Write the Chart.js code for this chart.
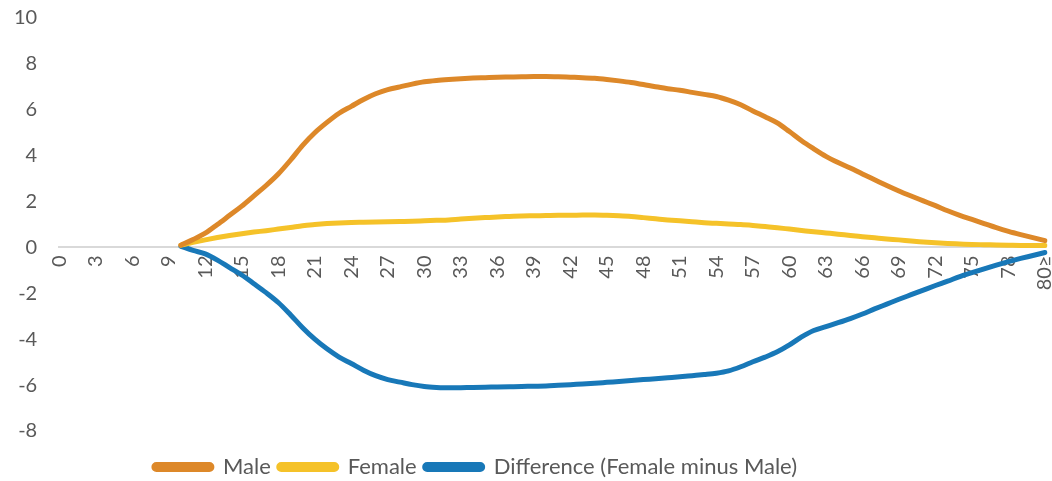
<!DOCTYPE html>
<html>
<head>
<meta charset="utf-8">
<style>
  html, body { margin: 0; padding: 0; background: #ffffff; }
  #wrap { width: 1052px; height: 481px; }
</style>
<script src="https://cdn.jsdelivr.net/npm/chart.js@4/dist/chart.umd.min.js"></script>
</head>
<body>
<div id="wrap"><canvas id="chart" width="1052" height="481"></canvas></div>
<script>
// Age categories 0..80, then the open-ended "80≥" group
const ages = [];
for (let a = 0; a <= 80; a++) ages.push(String(a));
ages.push('80≥');

// Series values start at age 10 (earlier ages have no data)
const firstAge = 10;
const maleValues = [
  0.10, 0.35, 0.62, 1.00, 1.40, 1.80, 2.25, 2.70, 3.20, 3.80,
  4.45, 5.00, 5.45, 5.85, 6.15, 6.45, 6.70, 6.88, 7.00, 7.12,
  7.22, 7.28, 7.32, 7.35, 7.38, 7.40, 7.42, 7.43, 7.44, 7.45,
  7.45, 7.44, 7.42, 7.40, 7.37, 7.32, 7.26, 7.19, 7.10, 7.00,
  6.92, 6.85, 6.76, 6.67, 6.58, 6.42, 6.22, 5.95, 5.70, 5.43,
  5.05, 4.65, 4.30, 3.97, 3.70, 3.46, 3.20, 2.95, 2.70, 2.46,
  2.24, 2.03, 1.82, 1.60, 1.40, 1.22, 1.04, 0.86, 0.70, 0.56,
  0.43, 0.30
];
const femaleValues = [
  0.10, 0.22, 0.33, 0.43, 0.52, 0.60, 0.67, 0.73, 0.80, 0.87,
  0.95, 1.00, 1.04, 1.07, 1.09, 1.10, 1.11, 1.12, 1.13, 1.14,
  1.16, 1.18, 1.20, 1.24, 1.27, 1.30, 1.33, 1.35, 1.37, 1.38,
  1.39, 1.40, 1.40, 1.41, 1.41, 1.40, 1.38, 1.35, 1.30, 1.25,
  1.20, 1.16, 1.12, 1.08, 1.05, 1.02, 1.00, 0.96, 0.91, 0.86,
  0.80, 0.74, 0.68, 0.63, 0.58, 0.52, 0.47, 0.42, 0.37, 0.33,
  0.28, 0.24, 0.20, 0.17, 0.15, 0.13, 0.12, 0.11, 0.10, 0.09,
  0.09, 0.08
];
const differenceValues = [
  0.05, -0.13, -0.28, -0.55, -0.88, -1.20, -1.58, -1.97, -2.40, -2.93,
  -3.50, -4.00, -4.42, -4.78, -5.06, -5.35, -5.59, -5.76, -5.87, -5.98,
  -6.06, -6.10, -6.12, -6.11, -6.10, -6.09, -6.08, -6.07, -6.06, -6.05,
  -6.04, -6.01, -5.98, -5.95, -5.92, -5.88, -5.84, -5.80, -5.76, -5.72,
  -5.68, -5.64, -5.59, -5.54, -5.48, -5.38, -5.20, -4.98, -4.78, -4.55,
  -4.25, -3.90, -3.62, -3.45, -3.28, -3.10, -2.90, -2.68, -2.47, -2.26,
  -2.06, -1.86, -1.66, -1.47, -1.27, -1.10, -0.93, -0.77, -0.62, -0.48,
  -0.35, -0.22
];

// Y axis range and step
const yMin = -8, yMax = 10, yStep = 2;

function padSeries(values) {
  const out = new Array(firstAge).fill(null);
  return out.concat(values);
}

// Let the layout padding alone decide the plot edges
function noScalePadding(scale) {
  scale.paddingTop = 0;
  scale.paddingBottom = 0;
  scale.paddingLeft = 0;
  scale.paddingRight = 0;
}

// Nudge the legend row: a little left of centre and lower down
const legendNudge = {
  id: 'legendNudge',
  afterLayout(chart) {
    const lg = chart.legend;
    if (!lg) return;
    const dx = -47, dy = 17;
    lg.left += dx; lg.right += dx;
    lg.top += dy; lg.bottom += dy;
  }
};

const ctx = document.getElementById('chart').getContext('2d');
new Chart(ctx, {
  type: 'line',
  data: {
    labels: ages,
    datasets: [
      { label: 'Male', data: padSeries(maleValues), borderColor: '#DD8829', backgroundColor: '#DD8829' },
      { label: 'Female', data: padSeries(femaleValues), borderColor: '#F5C229', backgroundColor: '#F5C229' },
      { label: 'Difference (Female minus Male)', data: padSeries(differenceValues), borderColor: '#1878B8', backgroundColor: '#1878B8' }
    ]
  },
  plugins: [legendNudge],
  options: {
    responsive: false,
    animation: false,
    devicePixelRatio: 1,
    layout: { padding: { left: 0, right: 7, top: 18, bottom: 10 } },
    elements: {
      line: { borderWidth: 5, tension: 0.4, cubicInterpolationMode: 'monotone', borderCapStyle: 'round', borderJoinStyle: 'round' },
      point: { radius: 0, hoverRadius: 0 }
    },
    plugins: {
      legend: {
        position: 'bottom',
        labels: {
          boxWidth: 58,
          boxHeight: 5,
          useBorderRadius: true,
          borderRadius: 2.5,
          padding: 8,
          color: '#595959',
          font: { family: 'Lato', size: 22 }
        }
      },
      tooltip: { enabled: false }
    },
    scales: {
      x: {
        position: { y: 0 },
        offset: false,
        afterFit: noScalePadding,
        grid: { display: false, drawTicks: false },
        border: { display: true, color: '#d9d9d9', width: 2 },
        ticks: {
          autoSkip: false,
          maxRotation: 90,
          minRotation: 90,
          padding: 8,
          color: '#595959',
          font: { family: 'Lato', size: 20 },
          callback: function (value, index) {
            return (index % 3 === 0 || index === ages.length - 1) ? ages[index] : null;
          }
        }
      },
      y: {
        min: yMin,
        max: yMax,
        afterFit: noScalePadding,
        grid: { display: false },
        border: { display: false },
        ticks: {
          stepSize: yStep,
          padding: 14,
          color: '#595959',
          font: { family: 'Lato', size: 20 }
        }
      }
    }
  }
});
</script>
</body>
</html>
